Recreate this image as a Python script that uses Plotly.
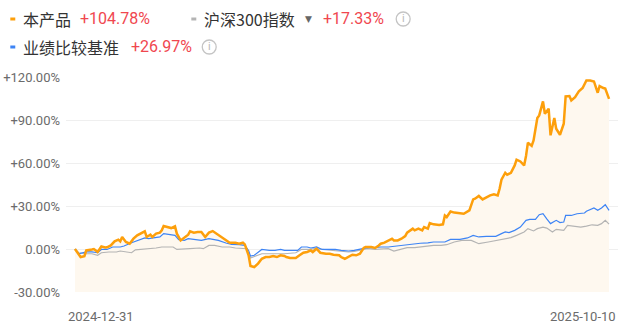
import plotly.graph_objects as go

# ---------------- data ----------------
start_label = "2024-12-31"
end_label = "2025-10-10"
x_tick_labels = [start_label, end_label]

# day offsets from 2024-12-31 and cumulative return (%)
prod_days = [0, 2, 3, 5, 6, 9, 10, 12, 14, 16, 17, 19, 21, 23, 24, 25, 27, 29, 31, 33,
             36, 37, 38, 40, 41, 43, 45, 46, 47, 49, 51, 53, 54, 56, 58, 60, 61, 63, 65, 67,
             69, 71, 73, 75, 77, 79, 81, 82, 85, 87, 89, 90, 92, 93, 95, 97, 99, 101, 103, 105,
             107, 109, 111, 112, 114, 117, 119, 121, 123, 125, 126, 128, 130, 132, 133, 135, 137, 140, 141, 143,
             145, 147, 149, 151, 153, 154, 157, 159, 161, 162, 164, 166, 168, 169, 171, 173, 175, 176, 179, 180,
             182, 184, 185, 187, 188, 190, 193, 195, 196, 197, 199, 201, 204, 206, 209, 211, 212, 214, 216, 218,
             220, 222, 224, 225, 226, 228, 229, 231, 233, 234, 236, 238, 239, 240, 242, 243, 245, 246, 248, 249,
             251, 252, 254, 255, 257, 259, 260, 262, 263, 265, 267, 269, 271, 273, 275, 277, 278, 280, 281, 283]
prod_vals = [0.0, -3.3, -5.6, -5.0, -1.0, -0.3, 0.0, -2.0, 1.8, 1.0, 1.2, 2.5, 5.3, 6.5, 5.3, 8.4, 4.9, 3.7, 7.2, 9.5,
             11.4, 12.3, 8.4, 10.0, 8.4, 10.7, 11.4, 13.0, 16.0, 15.3, 14.6, 15.8, 10.7, 6.0, 7.7, 10.0, 12.3, 11.4, 11.8, 11.8,
             8.4, 11.4, 12.5, 10.7, 8.4, 6.5, 4.9, 4.4, 4.4, 3.7, 4.4, 3.2, -4.4, -11.9, -12.6, -10.2, -6.8, -5.6, -5.6, -4.9,
             -5.6, -4.4, -4.9, -5.6, -6.3, -6.3, -4.4, -2.6, -2.1, -1.0, -2.1, 0.2, -2.6, -3.3, -3.3, -3.3, -4.0, -4.4, -5.6, -6.8,
             -5.6, -4.0, -4.4, -3.3, 0.7, 1.4, 1.4, 0.7, 2.5, 3.7, 4.4, 6.0, 7.2, 6.0, 6.0, 7.2, 9.0, 11.4, 14.2, 13.0,
             14.2, 13.0, 15.3, 14.2, 18.1, 17.2, 16.7, 17.2, 23.4, 22.3, 26.2, 25.4, 25.1, 24.6, 26.9, 34.6, 35.1, 37.0, 34.6, 36.3,
             37.4, 38.1, 37.4, 42.0, 48.3, 53.2, 51.8, 53.2, 58.3, 62.3, 61.1, 58.3, 64.9, 74.2, 71.9, 75.8, 91.4, 93.2, 103.0, 94.4,
             97.9, 79.3, 91.4, 83.9, 79.7, 87.4, 106.5, 106.7, 103.7, 106.0, 110.0, 112.3, 117.6, 117.6, 116.9, 109.0, 113.7, 112.3, 112.0, 104.78]

bench_days = [0, 2, 6, 9, 12, 14, 17, 20, 24, 26, 30, 33, 37, 39, 42, 45, 47, 50, 53, 55,
              58, 60, 64, 67, 71, 74, 76, 80, 83, 87, 90, 92, 93, 95, 96, 99, 103, 106, 109, 111,
              115, 118, 120, 123, 125, 128, 131, 134, 138, 141, 145, 148, 152, 155, 159, 162, 166, 169, 173, 176,
              180, 183, 187, 190, 196, 199, 204, 208, 211, 214, 218, 223, 226, 228, 230, 233, 236, 239, 241, 244,
              246, 248, 250, 252, 255, 257, 259, 260, 263, 266, 270, 271, 275, 277, 279, 281, 283]
bench_vals = [0.0, -3.3, -2.0, -2.0, -2.6, -0.3, -0.3, 1.4, 1.4, 2.1, 4.4, 6.0, 7.7, 7.2, 7.7, 8.4, 10.7, 10.0, 9.5, 6.5,
              6.0, 7.2, 6.5, 6.0, 7.2, 6.7, 6.0, 4.2, 3.2, 3.0, 2.5, -1.0, -4.9, -4.4, -3.3, -0.3, -1.0, -1.0, -0.3, -1.0,
              -1.0, -1.0, 1.4, 1.4, 0.7, 1.4, -0.3, -0.3, -0.3, -1.0, -1.4, -1.0, 0.2, 0.9, 0.9, 1.4, 1.4, 1.9, 2.5, 3.0,
              3.2, 4.0, 4.3, 4.9, 4.9, 6.7, 6.7, 7.7, 9.5, 8.4, 8.8, 8.8, 10.7, 11.9, 11.4, 13.0, 15.3, 20.0, 20.7, 20.7,
              23.9, 24.6, 21.0, 17.7, 20.0, 18.4, 18.8, 23.4, 23.4, 24.6, 25.1, 26.3, 28.6, 27.0, 28.6, 30.9, 26.97]

index_days = [0, 2, 6, 9, 12, 14, 18, 22, 24, 27, 30, 32, 36, 39, 43, 46, 49, 52, 54, 58,
              61, 66, 68, 71, 74, 78, 82, 85, 89, 91, 93, 96, 97, 99, 101, 106, 111, 117, 120, 124,
              127, 131, 136, 141, 145, 148, 152, 155, 159, 162, 166, 169, 173, 176, 180, 183, 187, 190, 194, 197,
              201, 205, 210, 212, 214, 219, 223, 227, 231, 234, 238, 240, 243, 245, 248, 250, 253, 255, 259, 261,
              264, 268, 271, 274, 277, 279, 281, 283]
index_vals = [0.0, -2.6, -3.3, -3.3, -4.4, -2.6, -2.1, -2.1, -1.4, -2.1, -2.6, -0.6, -0.3, 0.2, 0.7, 1.4, 1.4, 1.4, -0.3, -0.3,
              0.2, 0.7, 0.2, 2.5, 2.5, 1.4, 1.4, 0.7, 0.7, 0.2, -6.3, -4.9, -4.0, -3.3, -3.3, -3.3, -3.3, -2.6, -0.3, -0.3,
              0.2, -0.3, -1.0, -1.6, -2.1, -1.6, -0.6, 0.2, -0.3, -0.3, 0.2, -1.4, 0.2, 0.9, 0.9, 1.4, 1.9, 2.5, 2.5, 3.0,
              4.9, 6.0, 6.0, 4.9, 3.7, 4.9, 6.0, 7.2, 7.9, 9.5, 11.9, 14.2, 12.6, 14.2, 15.3, 14.6, 11.9, 13.7, 13.0, 16.5,
              16.0, 15.3, 16.0, 16.9, 16.5, 17.7, 20.0, 17.33]

y_tick_vals = [-30, 0, 30, 60, 90, 120]
y_tick_text = ["-30.00%", "0.00%", "+30.00%", "+60.00%", "+90.00%", "+120.00%"]

series_names = ["本产品", "沪深300指数", "业绩比较基准"]
series_colors = ["#fd9f0b", "#b4b4b4", "#3d84f5"]

# ---------------- layout geometry ----------------
W, H = 621, 331
ML, MR, MT, MB = 63, 3, 77, 39
PW, PH = W - ML - MR, H - MT - MB

def px(x):
    return (x - ML) / PW

def py(y):
    return (H - MB - y) / PH

fig = go.Figure()

# invisible baseline for the area fill
fig.add_trace(go.Scatter(x=prod_days, y=[y_tick_vals[0]] * len(prod_days), mode="lines",
                         line=dict(width=0, color="rgba(0,0,0,0)"), hoverinfo="skip", showlegend=False))
fig.add_trace(go.Scatter(x=prod_days, y=prod_vals, mode="lines", fill="tonexty",
                         fillcolor="#fef8ef", line=dict(width=0, color="rgba(0,0,0,0)"),
                         hoverinfo="skip", showlegend=False))
fig.add_trace(go.Scatter(x=index_days, y=index_vals, mode="lines", name=series_names[1],
                         line=dict(width=1.2, color=series_colors[1]), showlegend=False))
fig.add_trace(go.Scatter(x=bench_days, y=bench_vals, mode="lines", name=series_names[2],
                         line=dict(width=1.2, color=series_colors[2]), showlegend=False))
fig.add_trace(go.Scatter(x=prod_days, y=prod_vals, mode="lines", name=series_names[0],
                         line=dict(width=2.5, color=series_colors[0]), showlegend=False))

x0 = prod_days[0] - 9 * (prod_days[-1] - prod_days[0]) / 537
x1 = prod_days[-1] + 9 * (prod_days[-1] - prod_days[0]) / 537

fig.update_xaxes(range=[x0, x1], showgrid=False, zeroline=False, showticklabels=False,
                 showline=False, ticks="")
fig.update_yaxes(range=[-30, 120], tickvals=y_tick_vals, ticktext=y_tick_text,
                 showgrid=True, gridcolor="#efefef", gridwidth=1, zeroline=False,
                 showline=False, ticks="", ticklabelstandoff=5,
                 tickfont=dict(family="Roboto", size=13, color="#6b6b6b"))

annotations = []
shapes = []

# x-axis date labels (anchored to plot edges)
annotations.append(dict(x=0, y=py(316), xref="paper", yref="paper", text=x_tick_labels[0],
                        xanchor="left", yanchor="middle", showarrow=False,
                        font=dict(family="Roboto", size=13, color="#6b6b6b")))
annotations.append(dict(x=1, y=py(316), xref="paper", yref="paper", text=x_tick_labels[1],
                        xanchor="right", yanchor="middle", showarrow=False,
                        font=dict(family="Roboto", size=13, color="#6b6b6b")))

cjk = "Noto Sans CJK SC"
red = "#f0474f"
finals = [prod_vals[-1], index_vals[-1], bench_vals[-1]]

def legend_item(dash_x, row_y, name_x, val_x, name, color, value, info_x=None, tri_x=None):
    shapes.append(dict(type="rect", xref="paper", yref="paper",
                       x0=px(dash_x), x1=px(dash_x + 5), y0=py(row_y + 1.5), y1=py(row_y - 1.5),
                       fillcolor=color, line=dict(width=0)))
    annotations.append(dict(x=px(name_x), y=py(row_y), xref="paper", yref="paper", text=name,
                            xanchor="left", yanchor="middle", showarrow=False,
                            font=dict(family=cjk, size=16, color="#333333")))
    annotations.append(dict(x=px(val_x), y=py(row_y), xref="paper", yref="paper",
                            text=f"{value:+.2f}%", xanchor="left", yanchor="middle", showarrow=False,
                            font=dict(family="Roboto", size=16, color=red)))
    if tri_x is not None:
        annotations.append(dict(x=px(tri_x), y=py(row_y), xref="paper", yref="paper", text="▼",
                                xanchor="left", yanchor="middle", showarrow=False,
                                font=dict(family="DejaVu Sans", size=9, color="#666666")))
    if info_x is not None:
        r = 7
        shapes.append(dict(type="circle", xref="paper", yref="paper",
                           x0=px(info_x - r), x1=px(info_x + r), y0=py(row_y + r), y1=py(row_y - r),
                           line=dict(color="#c4c4c4", width=1.3)))
        annotations.append(dict(x=px(info_x), y=py(row_y), xref="paper", yref="paper", text="i",
                                xanchor="center", yanchor="middle", showarrow=False,
                                font=dict(family="Roboto", size=11, color="#b8b8b8")))

legend_item(7, 19, 18, 75, series_names[0], series_colors[0], finals[0])
legend_item(189, 19, 200, 319, series_names[1], "#b4b4b4", finals[1], info_x=402, tri_x=301)
legend_item(7, 47, 18, 126, series_names[2], series_colors[2], finals[2], info_x=207)

fig.update_layout(width=W, height=H, margin=dict(l=ML, r=MR, t=MT, b=MB),
                  paper_bgcolor="white", plot_bgcolor="white",
                  annotations=annotations, shapes=shapes, showlegend=False)

fig.write_html("out.html", config={"displayModeBar": False})
